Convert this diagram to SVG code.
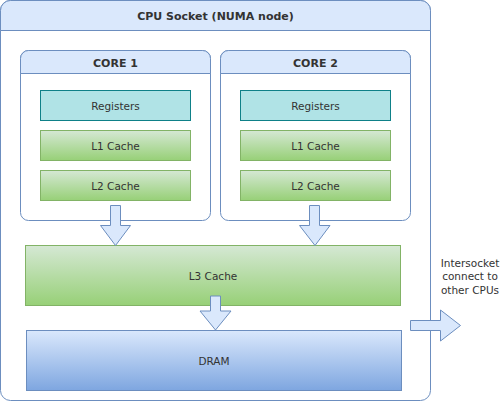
<svg xmlns="http://www.w3.org/2000/svg" width="501" height="401" viewBox="0 0 501 401">
<defs>
<linearGradient id="gGreen" x1="0" y1="0" x2="0" y2="1"><stop offset="0" stop-color="#d5e8d4"/><stop offset="1" stop-color="#97d077"/></linearGradient>
<linearGradient id="gBlue" x1="0" y1="0" x2="0" y2="1"><stop offset="0" stop-color="#dae8fc"/><stop offset="1" stop-color="#7ea6e0"/></linearGradient>
</defs>
<style>
text{font-family:"DejaVu Sans","Liberation Sans",sans-serif;fill:#333333;text-anchor:middle}
.t{font-size:10.5px}
.b{font-size:11px;font-weight:bold}
.lane{fill:#ffffff;stroke:#6c8ebf;stroke-width:1}
.hdr{fill:#dae8fc;stroke:#6c8ebf;stroke-width:1}
.reg{fill:#b0e3e6;stroke:#0e8088;stroke-width:1}
.cache{fill:url(#gGreen);stroke:#82b366;stroke-width:1}
.dram{fill:url(#gBlue);stroke:#6c8ebf;stroke-width:1}
.arr{fill:#dae8fc;stroke:#6c8ebf;stroke-width:1;stroke-linejoin:miter}
</style>
<g id="socket">
<rect class="lane" x="0.5" y="0.5" width="430" height="400" rx="10" ry="10"/>
<path class="hdr" d="M0.5,30.5 V10.5 A10,10 0 0 1 10.5,0.5 H420.5 A10,10 0 0 1 430.5,10.5 V30.5 Z"/>
<text class="b" x="215.5" y="20">CPU Socket (NUMA node)</text>
</g>
<g id="core1">
<rect class="lane" x="20.5" y="50.5" width="190" height="170" rx="8" ry="8"/>
<path class="hdr" d="M20.5,73.5 V58.5 A8,8 0 0 1 28.5,50.5 H202.5 A8,8 0 0 1 210.5,58.5 V73.5 Z"/>
<text class="b" x="115.5" y="66.5">CORE 1</text>
</g>
<g id="core2">
<rect class="lane" x="220.5" y="50.5" width="190" height="170" rx="8" ry="8"/>
<path class="hdr" d="M220.5,73.5 V58.5 A8,8 0 0 1 228.5,50.5 H402.5 A8,8 0 0 1 410.5,58.5 V73.5 Z"/>
<text class="b" x="315.5" y="66.5">CORE 2</text>
</g>
<g id="registers1"><rect class="reg" x="40.5" y="90.5" width="150" height="30"/><text class="t" x="115.5" y="109.5">Registers</text></g>
<g id="l1cache1"><rect class="cache" x="40.5" y="130.5" width="150" height="30"/><text class="t" x="115.5" y="149.5">L1 Cache</text></g>
<g id="l2cache1"><rect class="cache" x="40.5" y="170.5" width="150" height="30"/><text class="t" x="115.5" y="189.5">L2 Cache</text></g>
<g id="registers2"><rect class="reg" x="240.5" y="90.5" width="150" height="30"/><text class="t" x="315.5" y="109.5">Registers</text></g>
<g id="l1cache2"><rect class="cache" x="240.5" y="130.5" width="150" height="30"/><text class="t" x="315.5" y="149.5">L1 Cache</text></g>
<g id="l2cache2"><rect class="cache" x="240.5" y="170.5" width="150" height="30"/><text class="t" x="315.5" y="189.5">L2 Cache</text></g>
<g id="l3cache"><rect class="cache" x="25.5" y="245.5" width="375" height="60"/><text class="t" x="213" y="279.5">L3 Cache</text></g>
<g id="dram"><rect class="dram" x="26.5" y="330.5" width="375" height="60"/><text class="t" x="214" y="365">DRAM</text></g>
<g id="connectors">
<path class="arr" d="M110.5,205.5 H120.5 V225.5 H130.5 L115.5,245.5 L100.5,225.5 H110.5 Z"/>
<path class="arr" d="M309.5,205.5 H319.5 V225.5 H330 L315,245.5 L299.5,225.5 H309.5 Z"/>
<path class="arr" d="M210.5,296 H220.5 V311 H231 L215.5,330 L200,311 H210.5 Z"/>
<path class="arr" d="M410.5,320.5 H440.5 V310 L460.5,325.5 L440.5,341 V330.5 H410.5 Z"/>
</g>
<g id="intersocket-label">
<text class="t" x="470" y="266.5">Intersocket</text>
<text class="t" x="470" y="280">connect to</text>
<text class="t" x="470" y="293.5">other CPUs</text>
</g>
</svg>
